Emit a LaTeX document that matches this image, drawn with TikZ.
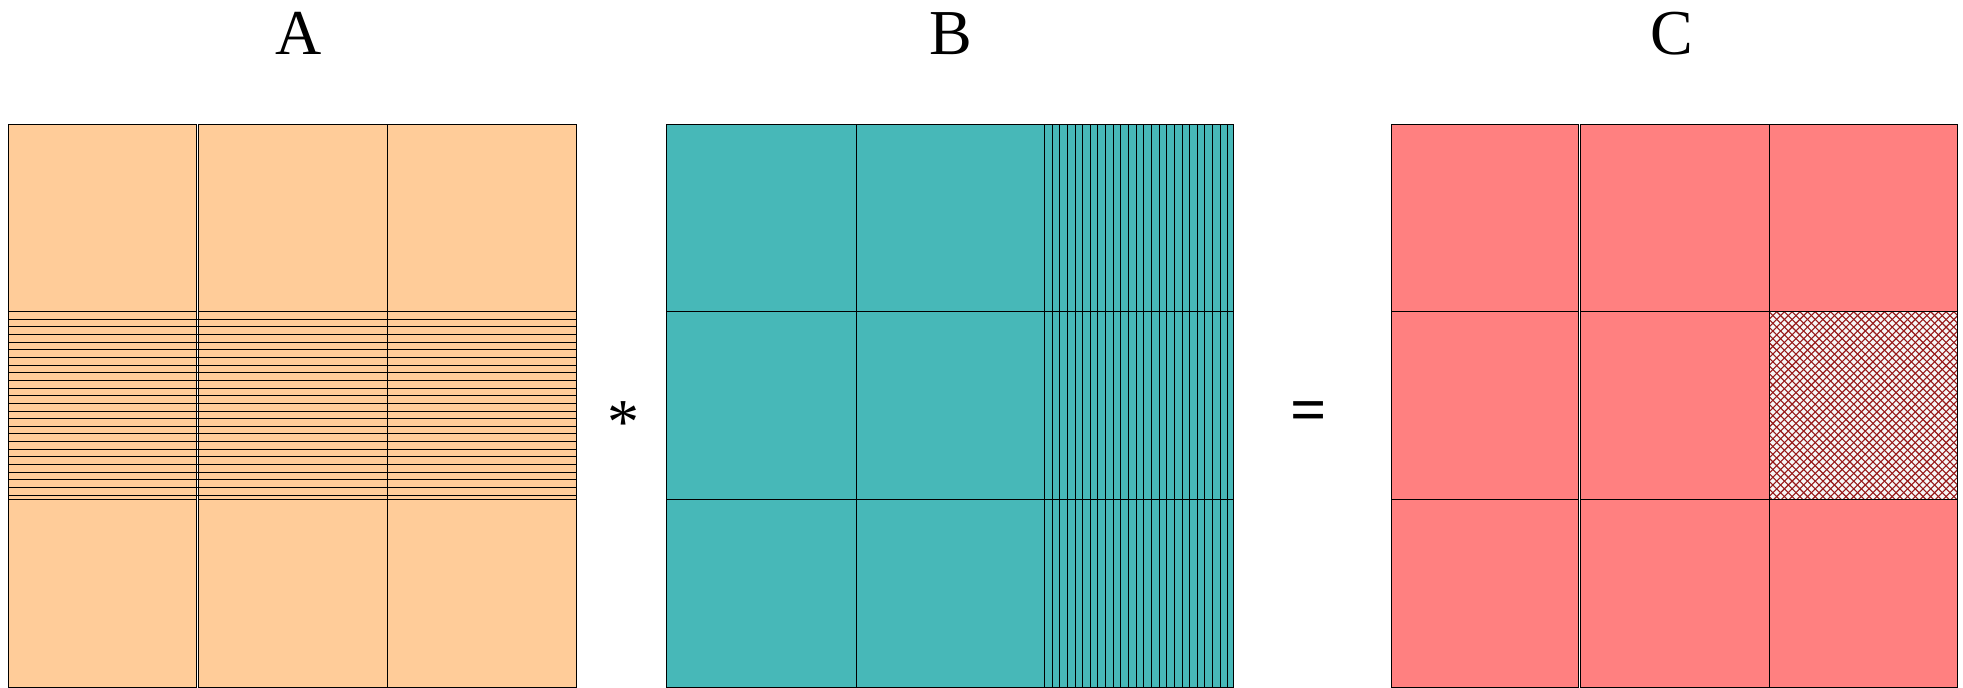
\documentclass[tikz,border=0pt]{standalone}
\usepackage{fontspec}
\setmainfont{Liberation Serif}
\definecolor{apeach}{RGB}{255,204,153}
\definecolor{bteal}{RGB}{71,184,184}
\definecolor{csalmon}{RGB}{255,128,128}
\definecolor{hatchred}{RGB}{150,25,25}
\definecolor{hatchbg}{RGB}{246,246,246}
\begin{document}
\begin{tikzpicture}[x=0.5pt,y=-0.5pt,
  blk/.style={draw=black,line width=0.5pt},
  stripe/.style={draw=black,line width=0.5pt},
  hatchline/.style={draw=hatchred,line width=0.55pt},
  lbl/.style={font=\fontsize{32}{36}\selectfont,inner sep=0pt}]
\useasboundingbox (0,0) rectangle (1963,687);
\clip (0,0) rectangle (1963,687);
% ---------- A ----------
\foreach \xa/\xb in {8.7/196.7,198.7/387.3,387.3/576}
  \foreach \ya/\yb in {124/311.7,311.7/499.5,499.5/687.6}
    \filldraw[fill=apeach,blk] (\xa,\ya) rectangle (\xb,\yb);
\foreach \k in {1,...,24}
  \draw[stripe] (8.7,311.7+\k*7.64) -- (576,311.7+\k*7.64);
% ---------- B ----------
\foreach \xa/\xb in {666/856,856/1044.5,1044.5/1233.5}
  \foreach \ya/\yb in {124/311.7,311.7/499.5,499.5/687.6}
    \filldraw[fill=bteal,blk] (\xa,\ya) rectangle (\xb,\yb);
\foreach \k in {1,...,24}
  \draw[stripe] (1044.5+\k*7.64,124) -- (1044.5+\k*7.64,687);
% ---------- C ----------
\foreach \xa/\xb in {1391/1578.5,1580.5/1769,1769/1957.5}
  \foreach \ya/\yb in {124/311.7,311.7/499.5,499.5/687.6}
    \filldraw[fill=csalmon,blk] (\xa,\ya) rectangle (\xb,\yb);
\fill[hatchbg] (1769,311.7) rectangle (1957.5,499.5);
\begin{scope}
  \clip (1769,311.7) rectangle (1957.5,499.5);
  \foreach \i in {-26,...,26}
    \draw[hatchline] (1769+\i*7.7,311.7) -- ++(195,195);
  \foreach \i in {0,...,52}
    \draw[hatchline] (1769+\i*7.7,311.7) -- ++(-195,195);
\end{scope}
\draw[blk] (1769,311.7) rectangle (1957.5,499.5);
% ---------- labels ----------
\node[lbl,anchor=base] (labA) at (299,54) {A};
\node[lbl,anchor=base] (labB) at (951,54) {B};
\node[lbl,anchor=base] (labC) at (1672,54) {C};
\node[lbl,anchor=base] (times) at (623,443) {*};
\node[lbl,anchor=base] (eq) at (1309,431) {\bfseries =};
\end{tikzpicture}
\end{document}
